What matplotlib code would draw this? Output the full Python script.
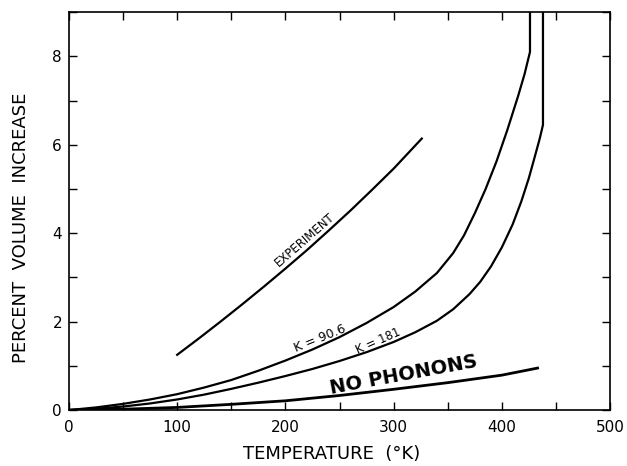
import matplotlib
matplotlib.use("Agg")
import matplotlib.pyplot as plt
from matplotlib.ticker import MultipleLocator

# --- curves (temperature in K, percent volume increase) ---
exp_t = [100, 120, 140, 160, 180, 200, 220, 240, 260, 280, 300, 326]
exp_v = [1.25, 1.62, 2.0, 2.39, 2.79, 3.2, 3.62, 4.06, 4.51, 4.98, 5.46, 6.14]

k90_t = [0, 25, 50, 75, 100, 125, 150, 175, 200, 225, 250, 275, 300, 320, 340,
         355, 365, 375, 385, 395, 405, 415, 421, 426, 426]
k90_v = [0, 0.06, 0.14, 0.24, 0.36, 0.51, 0.68, 0.89, 1.12, 1.37, 1.65, 1.97, 2.33,
         2.68, 3.1, 3.55, 3.95, 4.45, 5.0, 5.62, 6.33, 7.1, 7.6, 8.1, 9.2]

k181_t = [0, 25, 50, 75, 100, 125, 150, 175, 200, 225, 250, 275, 300, 320, 340,
          355, 370, 380, 390, 400, 410, 418, 425, 431, 435, 438, 438]
k181_v = [0, 0.03, 0.08, 0.15, 0.24, 0.35, 0.48, 0.62, 0.77, 0.93, 1.11, 1.31, 1.54,
          1.76, 2.02, 2.28, 2.62, 2.9, 3.25, 3.68, 4.2, 4.72, 5.25, 5.78, 6.14, 6.45, 9.2]

nph_t = [0, 50, 100, 150, 200, 250, 300, 350, 400, 433]
nph_v = [0, 0.02, 0.06, 0.13, 0.21, 0.33, 0.47, 0.62, 0.79, 0.95]

x_ticks = [0, 100, 200, 300, 400, 500]
y_ticks = [0, 2, 4, 6, 8]

fig = plt.figure(figsize=(6.27, 4.66), dpi=100)
ax = fig.add_axes([0.110, 0.120, 0.863, 0.854])

ax.plot(exp_t, exp_v, color="black", lw=1.6)
ax.plot(k90_t, k90_v, color="black", lw=1.6)
ax.plot(k181_t, k181_v, color="black", lw=1.6)
ax.plot(nph_t, nph_v, color="black", lw=2.0)

# curve labels
ax.text(218, 3.85, "EXPERIMENT", rotation=41, fontsize=8.5, ha="center", va="center")
ax.text(232, 1.62, "K = 90.6", rotation=22, fontsize=9, ha="center", va="center")
ax.text(286, 1.55, "K = 181", rotation=24, fontsize=8.5, ha="center", va="center")
ax.text(309, 0.80, "NO PHONONS", rotation=10.5, fontsize=14, fontweight="bold",
        ha="center", va="center")

ax.set_xlim(0, 500)
ax.set_ylim(0, 9)
ax.set_xticks(x_ticks)
ax.set_yticks(y_ticks)
ax.xaxis.set_minor_locator(MultipleLocator(50))
ax.yaxis.set_minor_locator(MultipleLocator(1))
ax.tick_params(which="both", direction="in", top=True, right=True,
               length=6, width=1.0, labelsize=11)
ax.tick_params(axis="x", pad=7)
ax.tick_params(axis="y", pad=5)
for s in ax.spines.values():
    s.set_linewidth(1.2)

ax.set_xlabel("TEMPERATURE  (°K)", fontsize=13)
ax.set_ylabel("PERCENT  VOLUME  INCREASE", fontsize=13)
ax.xaxis.set_label_coords(0.486, -0.088)
ax.yaxis.set_label_coords(-0.072, 0.457)

fig.savefig("out.png", dpi=100)
